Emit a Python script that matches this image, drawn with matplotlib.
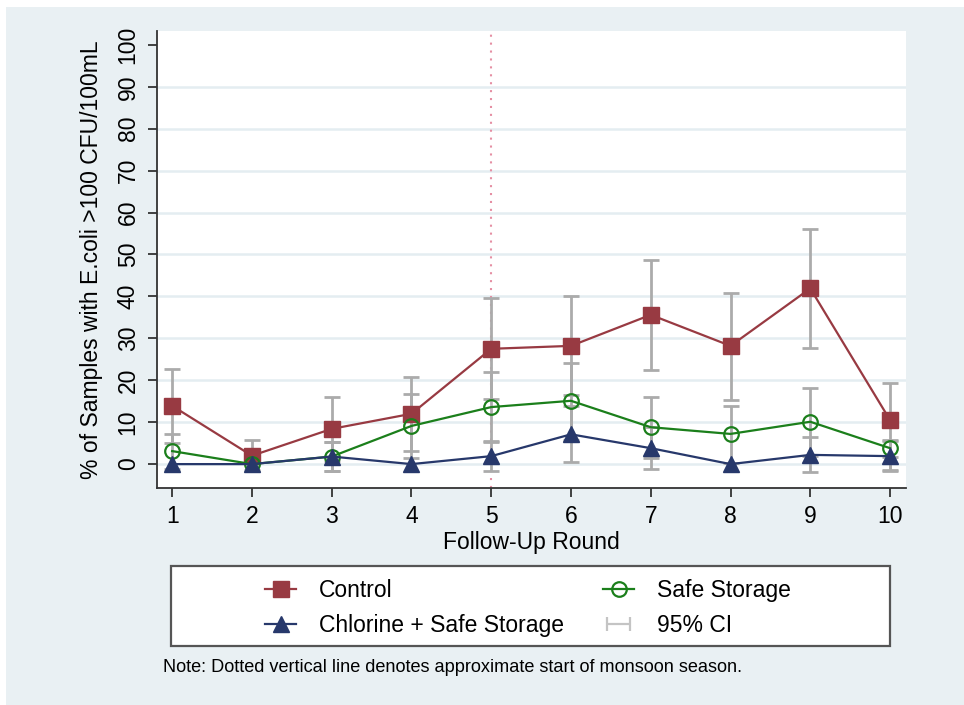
import numpy as np
import matplotlib
matplotlib.use("Agg")
import matplotlib.pyplot as plt
from matplotlib.patches import Rectangle
from matplotlib.lines import Line2D

plt.rcParams['font.family'] = ['Liberation Sans', 'DejaVu Sans']

# follow-up rounds
rounds = [1, 2, 3, 4, 5, 6, 7, 8, 9, 10]

# % of samples with E.coli >100 CFU/100mL, with 95% CI (nan = no interval)
control = [13.9, 2.0, 8.4, 12.0, 27.5, 28.2, 35.6, 28.2, 41.9, 10.5]
control_lo = [5.1, -1.5, 0.8, 3.2, 15.5, 16.4, 22.4, 15.4, 27.6, 1.6]
control_hi = [22.7, 5.7, 16.0, 20.8, 39.5, 40.0, 48.8, 40.9, 56.0, 19.4]

safe = [3.1, 0.0, 1.8, 9.1, 13.6, 15.1, 8.8, 7.2, 10.1, 3.8]
safe_lo = [-1.2, np.nan, -1.7, 1.5, 5.2, 5.8, 1.4, 0.3, 2.0, -1.4]
safe_hi = [7.2, np.nan, 5.3, 16.7, 22.0, 24.2, 16.0, 13.9, 18.2, 5.7]

chlorine = [0.0, 0.0, 1.8, 0.0, 1.9, 7.1, 3.8, 0.0, 2.2, 1.9]
chlorine_lo = [np.nan, np.nan, -1.7, np.nan, -1.6, 0.5, -1.2, np.nan, -1.9, -1.6]
chlorine_hi = [np.nan, np.nan, 5.3, np.nan, 5.4, 13.9, 8.8, np.nan, 6.5, 5.4]

monsoon_start = 5

c_control = '#983a42'
c_safe = '#1b7f1b'
c_chlor = '#27386b'
c_ci = '#ababab'
bg = '#e9f0f3'

W, H = 964, 705
fig = plt.figure(figsize=(W / 100, H / 100), dpi=100)
fig.patch.set_facecolor('white')
fig.add_artist(Rectangle((6 / W, 0), 1, 1 - 7 / H, transform=fig.transFigure,
                         facecolor=bg, edgecolor='none', zorder=-5))

ax = fig.add_axes([157 / W, 1 - 488 / H, (906 - 157) / W, (488 - 31) / H])
ax.set_facecolor('white')

x = np.array(rounds, dtype=float)


def ci(vals, lo, hi):
    vals, lo, hi = map(np.asarray, (vals, lo, hi))
    ok = ~np.isnan(lo)
    ax.errorbar(x[ok], vals[ok], yerr=[vals[ok] - lo[ok], hi[ok] - vals[ok]],
                fmt='none', ecolor=c_ci, elinewidth=2, capsize=5.5,
                capthick=2, zorder=2)


ci(control, control_lo, control_hi)
ci(safe, safe_lo, safe_hi)
ci(chlorine, chlorine_lo, chlorine_hi)

ax.plot(x, control, color=c_control, lw=1.6, marker='s', ms=11.5, zorder=4)
ax.plot(x, safe, color=c_safe, lw=1.6, marker='o', ms=10.5, mfc='none',
        mec=c_safe, mew=1.6, zorder=4)
ax.plot(x, chlorine, color=c_chlor, lw=1.6, marker='^', ms=11, zorder=4)

ax.axvline(monsoon_start, color='#e58fa3', lw=1.5, ls=(0, (1, 2.8)), zorder=1)

ax.set_xlim(0.81, 10.2)
ax.set_ylim(-5.7, 103.3)
ax.set_xticks(rounds)
ax.set_yticks(range(0, 101, 10))
for yv in range(0, 100, 10):
    ax.axhline(yv, color='#e4edf1', lw=1.8, zorder=0)

for s in ('top', 'right'):
    ax.spines[s].set_visible(False)
for s in ('left', 'bottom'):
    ax.spines[s].set_color('#333333')
    ax.spines[s].set_linewidth(1.3)
ax.tick_params(length=6.5, width=1.3, color='#333333', labelsize=16.5, pad=6)
plt.setp(ax.get_yticklabels(), rotation=90, va='center')

ax.set_xlabel('Follow-Up Round', fontsize=16.5, labelpad=2)
ax.set_ylabel('% of Samples with E.coli >100 CFU/100mL', fontsize=16.5, labelpad=10)

# legend box
fig.add_artist(Rectangle((171 / W, 1 - 646 / H), (890 - 171) / W, 80 / H,
                         transform=fig.transFigure, facecolor='white',
                         edgecolor='#555555', lw=1.6, zorder=1))
h_control = Line2D([], [], color=c_control, lw=1.6, marker='s', ms=11.5)
h_chlor = Line2D([], [], color=c_chlor, lw=1.6, marker='^', ms=11)
h_safe = Line2D([], [], color=c_safe, lw=1.6, marker='o', ms=10.5, mfc='none', mew=1.6)
h_ci = ax.errorbar([np.nan], [np.nan], xerr=[1], fmt='none', ecolor='#c4c4c4',
                   elinewidth=1.6, capsize=5, capthick=1.6)
leg = fig.legend([h_control, h_chlor, h_safe, h_ci],
                 ['Control', 'Chlorine + Safe Storage', 'Safe Storage', '95% CI'],
                 ncol=2, loc='center', bbox_to_anchor=(528 / W, 1 - 608 / H),
                 frameon=False, fontsize=16.5, numpoints=1, handlelength=1.35,
                 handletextpad=1.0, columnspacing=1.7, labelspacing=0.55)
leg.set_zorder(2)

fig.text(163 / W, 1 - 668 / H,
         'Note: Dotted vertical line denotes approximate start of monsoon season.',
         fontsize=13.1, va='center', ha='left')

fig.savefig('out.png', dpi=100)
